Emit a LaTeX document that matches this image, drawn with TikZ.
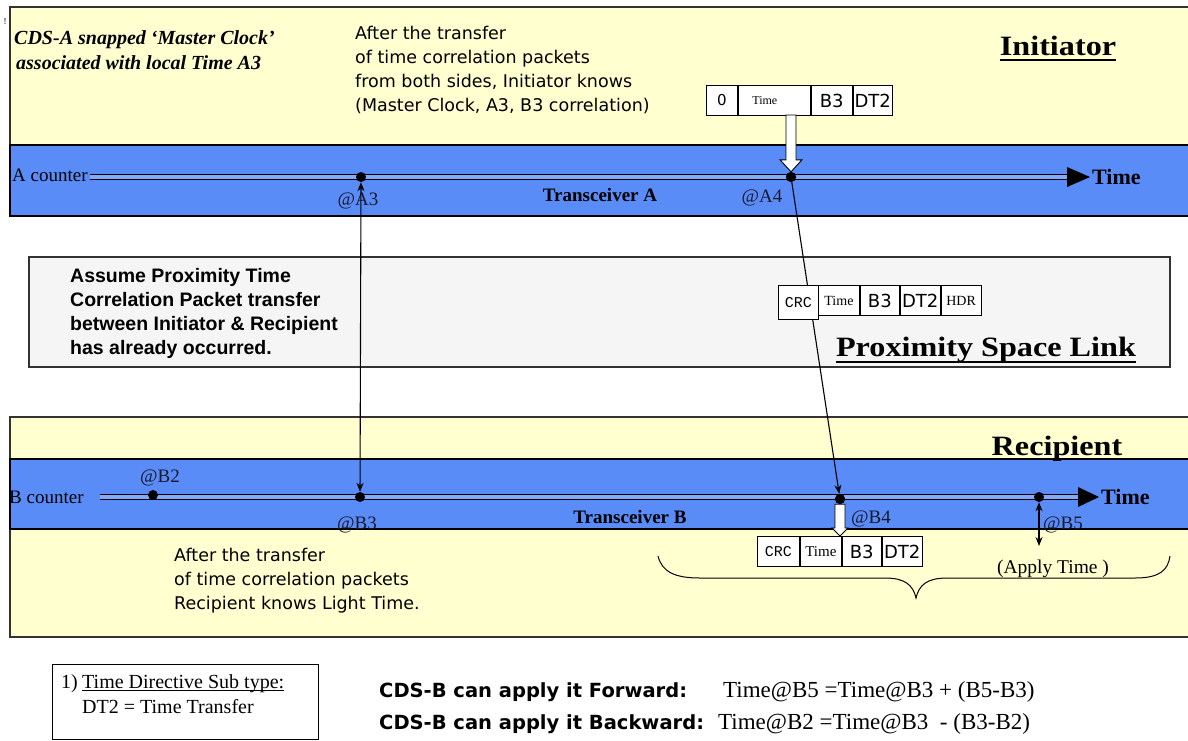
\documentclass[tikz,border=0pt]{standalone}
\usepackage{fontspec}
\setmainfont{Liberation Serif}
\setsansfont{DejaVu Sans}
\setmonofont{Liberation Mono}
\newfontfamily\arialfont{Liberation Sans}
\newfontfamily\titlefont[FakeStretch=1.15]{Liberation Serif}
\usetikzlibrary{arrows.meta,calc}
\definecolor{ylw}{RGB}{255,255,208}
\definecolor{bandblue}{RGB}{90,140,248}
\definecolor{boxgray}{RGB}{245,245,245}
\definecolor{lblcol}{RGB}{25,25,45}
\newcommand{\myfs}[2]{\fontsize{#1}{#2}\selectfont}
\begin{document}
\begin{tikzpicture}[x=1pt,y=-1pt,
  >={Stealth[length=9pt,width=7pt]},
  ypanel/.style={draw=black!80, line width=1.5pt, fill=ylw},
  bandfill/.style={fill=bandblue, draw=black, line width=2pt},
  dline/.style={draw=black, line width=1.2pt, double=bandblue!75!white, double distance=4.5pt},
  evdot/.style={circle, fill=black, inner sep=0pt, minimum size=10pt},
  pcell/.style={draw=black, fill=white, line width=0.9pt, minimum height=30pt, inner sep=0pt, anchor=north west},
  atlbl/.style={font=\myfs{19}{22}, text=lblcol, inner sep=0pt, anchor=base},
  trlbl/.style={font=\myfs{19}{22}\bfseries, inner sep=0pt, anchor=base},
  bigtitle/.style={font=\titlefont\bfseries\myfs{28}{32}, inner sep=0pt, anchor=base},
  sansnote/.style={font=\sffamily\myfs{17.5}{22}, inner sep=0pt, anchor=base west},
  boldnote/.style={font=\arialfont\bfseries\myfs{19.5}{23}, inner sep=0pt, anchor=base west},
  blockarrow/.style={draw=black, fill=white, line width=0.9pt, line join=miter},
  link/.style={draw=black, line width=1.1pt},
  timelbl/.style={font=\myfs{22}{26}\bfseries, inner sep=0pt, anchor=base west},
  cdsb/.style={font=\sffamily\bfseries\myfs{19.5}{23}, inner sep=0pt, anchor=base west},
  formula/.style={font=\myfs{23}{26}, inner sep=0pt, anchor=base west},
  cdsa/.style={font=\myfs{20}{23}\bfseries\itshape, inner sep=0pt, anchor=base west},
]
\useasboundingbox (0,0) rectangle (1188,740);
\fill[white] (0,0) rectangle (1188,740);

% ---------------- panels ----------------
\draw[ypanel] (10,7) rectangle (1195,145);
\draw[bandfill] (10,145) rectangle (1195,216);
\draw[ypanel] (10,417) rectangle (1195,637);
\draw[bandfill] (10,459) rectangle (1195,529);
\draw[draw=black!80, line width=1.3pt, fill=boxgray] (29,257) rectangle (1170,367);

% ---------------- top texts ----------------
\node[font=\myfs{9}{9}, inner sep=0pt] (mark) at (5,22) {!};
\node[cdsa] (cdsa1) at (14,44) {CDS-A snapped ‘Master Clock’};
\node[cdsa] (cdsa2) at (16,69) {associated with local Time A3};
\node[sansnote] (at1) at (355,39) {After the transfer};
\node[sansnote] (at2) at (355,63) {of time correlation packets};
\node[sansnote] (at3) at (355,87) {from both sides, Initiator knows};
\node[sansnote] (at4) at (355,111) {(Master Clock, A3, B3 correlation)};
\node[bigtitle] (init) at (1058,55) {Initiator};
\draw[line width=2pt] ([yshift=-5pt]init.base west) -- ([yshift=-5pt]init.base east);

% ---------------- A counter ----------------
\node[font=\myfs{19}{22}, inner sep=0pt, anchor=base west] (acnt) at (12,181) {A counter};
\coordinate (aStart) at (90,177);
\coordinate (aBase) at (1067,177);
\coordinate (aTip) at (1090,177);
\draw[dline] (aStart) -- (aBase);
\fill ($(aBase)+(0,-10)$) -- (aTip) -- ($(aBase)+(0,10)$) -- cycle;
\node[timelbl] (timeA) at (1092,184.5) {Time};
\node[atlbl] (lA3) at (358,205) {@A3};
\node[atlbl] (lA4) at (762,202) {@A4};
\node[trlbl] (trA) at (600,201) {Transceiver A};

% ---------------- B counter ----------------
\node[font=\myfs{19}{22}, inner sep=0pt, anchor=base west] (bcnt) at (9,503) {B counter};
\coordinate (bStart) at (100,497);
\coordinate (bBase) at (1078,497);
\coordinate (bTip) at (1099,497);
\draw[dline] (bStart) -- (bBase);
\fill ($(bBase)+(0,-10)$) -- (bTip) -- ($(bBase)+(0,10)$) -- cycle;
\node[timelbl] (timeB) at (1101,504.5) {Time};
\node[atlbl] (lB2) at (160,482) {@B2};
\node[atlbl] (lB3) at (357,529) {@B3};
\node[atlbl] (lB4) at (871,523) {@B4};
\node[atlbl] (lB5) at (1063,529) {@B5};
\node[trlbl] (trB) at (630,523) {Transceiver B};
\node[bigtitle] (recip) at (1057,455) {Recipient};
\draw[line width=2pt] ([yshift=-3.5pt]recip.base west) -- ([yshift=-3.5pt]recip.base east);

% ---------------- dots ----------------
\node[evdot] (dA3) at (361,177) {};
\node[evdot] (dA4) at (791,177) {};
\node[evdot] (dB2) at (153,495) {};
\node[evdot] (dB3) at (360,497) {};
\node[evdot] (dB4) at (840,499) {};
\node[evdot] (dB5) at (1039,497) {};
\coordinate (b5end) at (1039,546);

% ---------------- middle box texts ----------------
\node[boldnote] (as1) at (70,282.5) {Assume Proximity Time};
\node[boldnote] (as2) at (70,306.5) {Correlation Packet transfer};
\node[boldnote] (as3) at (70,330.5) {between Initiator \& Recipient};
\node[boldnote] (as4) at (70,354.5) {has already occurred.};
\node[bigtitle] (psl) at (986,356) {Proximity Space Link};
\draw[line width=2pt] ([yshift=-6pt]psl.base west) -- ([yshift=-6pt]psl.base east);

% ---------------- links ----------------
\draw[link, <->] (dA3) -- (dB3);
\draw[link, ->] (dA4) -- (dB4);
\draw[link, <->] (dB5) -- (b5end);

% ---------------- packets ----------------
\node[pcell, minimum width=31pt, font=\sffamily\myfs{15}{17}] (t0) at (706,85) {0};
\node[pcell, minimum width=72pt, font=\myfs{12}{14}, text width=60pt, align=left] (t1) at (t0.north east) {\hspace*{8pt}Time};
\node[pcell, minimum width=41pt, font=\sffamily\myfs{18}{20}] (t2) at (t1.north east) {B3};
\node[pcell, minimum width=39pt, font=\sffamily\myfs{18}{20}] (t3) at (t2.north east) {DT2};

\node[pcell, minimum width=40pt, minimum height=34pt, font=\ttfamily\myfs{15}{17}] (m0) at (778,285) {CRC};
\node[pcell, minimum width=41pt, font=\myfs{14}{16}] (m1) at (818,285) {Time};
\node[pcell, minimum width=39pt, font=\sffamily\myfs{18}{20}] (m2) at (m1.north east) {B3};
\node[pcell, minimum width=40pt, font=\sffamily\myfs{18}{20}] (m3) at (m2.north east) {DT2};
\node[pcell, minimum width=40pt, font=\myfs{14}{16}] (m4) at (m3.north east) {HDR};

\node[pcell, minimum width=42pt, font=\ttfamily\myfs{15}{17}] (b0) at (757,536) {CRC};
\node[pcell, minimum width=41pt, font=\myfs{15}{17}] (b1) at (b0.north east) {Time};
\node[pcell, minimum width=39pt, font=\sffamily\myfs{18}{20}] (b2) at (b1.north east) {B3};
\node[pcell, minimum width=40pt, font=\sffamily\myfs{18}{20}] (b3) at (b2.north east) {DT2};

% ---------------- block arrows ----------------
\coordinate (aArrTop) at (791,115);
\draw[blockarrow] ($(aArrTop)+(-5,0)$) -- ($(aArrTop)+(5,0)$) -- ($(dA4.north)+(5,-12)$) -- ($(dA4.north)+(11,-12)$) -- (dA4.north) -- ($(dA4.north)+(-11,-12)$) -- ($(dA4.north)+(-5,-12)$) -- cycle;
\coordinate (bArrTip) at (840,536);
\draw[blockarrow] ($(dB4.south)+(-5,0)$) -- ($(dB4.south)+(5,0)$) -- ($(bArrTip)+(5,-8)$) -- ($(bArrTip)+(8,-8)$) -- (bArrTip) -- ($(bArrTip)+(-8,-8)$) -- ($(bArrTip)+(-5,-8)$) -- cycle;
\node[evdot] at (dA4) {};
\node[evdot] at (dB4) {};

% ---------------- bottom panel texts ----------------
\node[font=\myfs{19.5}{22}, inner sep=0pt, anchor=base] (apply) at (1053,573) {(Apply Time )};
\draw[link, line width=1pt] (658,556) .. controls (662,572) and (675,578) .. (700,578) -- (885,578) .. controls (905,578) and (913,585) .. (916,598) .. controls (919,585) and (927,578) .. (947,578) -- (1135,578) .. controls (1160,578) and (1168,570) .. (1170,556);
\node[sansnote] (bt1) at (174,561) {After the transfer};
\node[sansnote] (bt2) at (174,585) {of time correlation packets};
\node[sansnote] (bt3) at (174,609) {Recipient knows Light Time.};

% ---------------- footnote ----------------
\draw[draw=black, line width=1pt, fill=white] (52,664) rectangle (318,739);
\node[font=\myfs{20}{22}, inner sep=0pt, anchor=base west] (fn1) at (61,688) {1)};
\node[font=\myfs{20}{22}, inner sep=0pt, anchor=base west] (fn2) at (82,688) {Time Directive Sub type:};
\draw[line width=0.9pt] ([yshift=-2.5pt]fn2.base west) -- ([yshift=-2.5pt]fn2.base east);
\node[font=\myfs{20}{22}, inner sep=0pt, anchor=base west] (fn3) at (82,713) {DT2 = Time Transfer};

% ---------------- formulas ----------------
\node[cdsb] (fw) at (379,697) {CDS-B can apply it Forward:};
\node[formula] (fwf) at (723,697) {Time@B5 =Time@B3 + (B5-B3)};
\node[cdsb] (bw) at (379,729) {CDS-B can apply it Backward:};
\node[formula] (bwf) at (718,729) {Time@B2 =Time@B3\ \ - (B3-B2)};
\end{tikzpicture}
\end{document}
